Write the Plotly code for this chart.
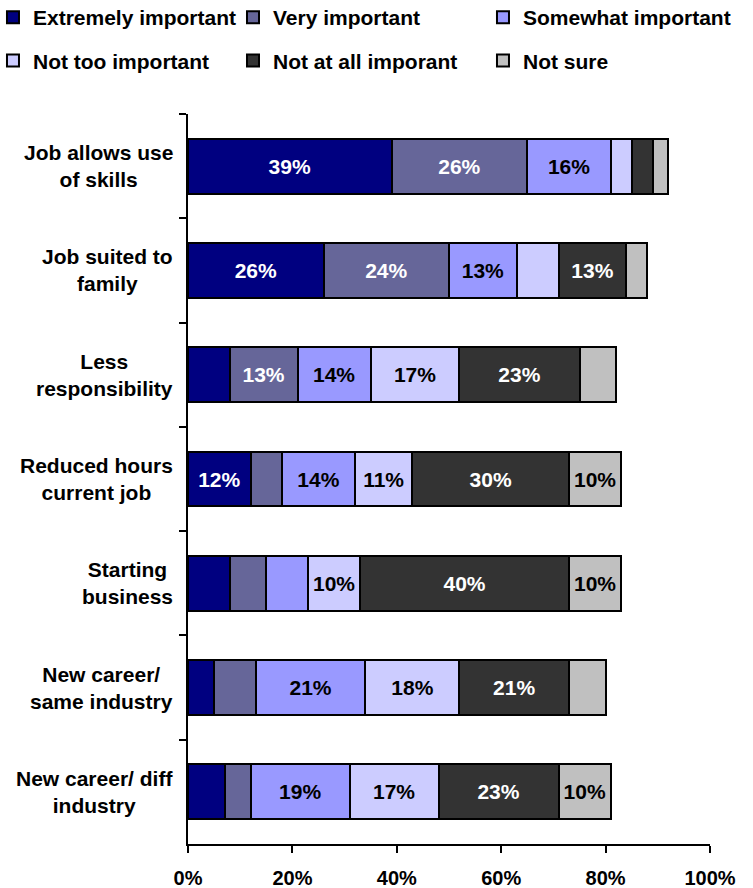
import plotly.graph_objects as go

# Survey items, listed top to bottom
categories = [
    "Job allows use<br>of skills",
    "Job suited to<br>family",
    "Less<br>responsibility",
    "Reduced hours<br>current job",
    "Starting<br>business",
    "New career/<br>same industry",
    "New career/ diff<br>industry",
]

# Share of respondents (%) per response, in the same order as categories
extremely_important = [39, 26, 8, 12, 8, 5, 7]
very_important = [26, 24, 13, 6, 7, 8, 5]
somewhat_important = [16, 13, 14, 14, 8, 21, 19]
not_too_important = [4, 8, 17, 11, 10, 18, 17]
not_at_all_important = [4, 13, 23, 30, 40, 21, 23]
not_sure = [3, 4, 7, 10, 10, 7, 10]

series_names = [
    "Extremely important",
    "Very important",
    "Somewhat important",
    "Not too important",
    "Not at all imporant",
    "Not sure",
]
series_values = [
    extremely_important,
    very_important,
    somewhat_important,
    not_too_important,
    not_at_all_important,
    not_sure,
]
fill_colors = ["#000080", "#666699", "#9999FF", "#CCCCFF", "#333333", "#C0C0C0"]
label_colors = ["white", "white", "black", "black", "white", "black"]
# legend columns: two entries per column, stacked vertically
legend_ids = ["legend", "legend2", "legend3", "legend", "legend2", "legend3"]

FONT = "Arial, 'Liberation Sans', sans-serif"

fig = go.Figure()
for name, vals, fill, lab, lg in zip(series_names, series_values, fill_colors,
                                     label_colors, legend_ids):
    fig.add_trace(go.Bar(
        name=name,
        y=categories,
        x=vals,
        orientation="h",
        marker=dict(color=fill, line=dict(color="black", width=2)),
        text=[f"{v}%" if v >= 10 else "" for v in vals],
        textposition="inside",
        insidetextanchor="middle",
        textangle=0,
        textfont=dict(family=FONT, size=21, color=lab, weight="bold"),
        legend=lg,
        legendgroup=name,
        hoverinfo="x+y+name",
    ))

# Category labels: right-aligned block, centred lines
for cat in categories:
    fig.add_annotation(
        x=0, xref="paper", y=cat, yref="y",
        text=cat, showarrow=False,
        xanchor="right", align="center", xshift=-13,
        font=dict(family=FONT, size=21, color="black", weight="bold"),
    )

legend_common = dict(
    orientation="v",
    xanchor="left",
    yanchor="middle",
    y=1.1027,
    traceorder="grouped",
    tracegroupgap=13,
    font=dict(family=FONT, size=21, color="black", weight="bold"),
    bgcolor="rgba(0,0,0,0)",
    itemclick=False,
)

fig.update_layout(
    width=753,
    height=888,
    margin=dict(l=188, r=43, t=114, b=44, autoexpand=False),
    paper_bgcolor="white",
    plot_bgcolor="white",
    barmode="stack",
    bargap=0.473,
    showlegend=True,
    legend=dict(x=-0.3736, **legend_common),
    legend2=dict(x=0.0862, **legend_common),
    legend3=dict(x=0.5651, **legend_common),
    xaxis=dict(
        range=[0, 100],
        tickmode="linear",
        tick0=0,
        dtick=20,
        ticksuffix="%",
        showgrid=False,
        zeroline=False,
        showline=True,
        linecolor="black",
        linewidth=2,
        ticks="outside",
        ticklen=7,
        tickwidth=2,
        tickcolor="black",
        ticklabelstandoff=8,
        tickfont=dict(family=FONT, size=20, color="black", weight="bold"),
        fixedrange=True,
    ),
    yaxis=dict(
        autorange="reversed",
        showgrid=False,
        zeroline=False,
        showline=True,
        linecolor="black",
        linewidth=2,
        ticks="outside",
        tickson="boundaries",
        ticklen=7,
        tickwidth=2,
        tickcolor="black",
        showticklabels=False,
        fixedrange=True,
    ),
)

fig.write_html("out.html")
